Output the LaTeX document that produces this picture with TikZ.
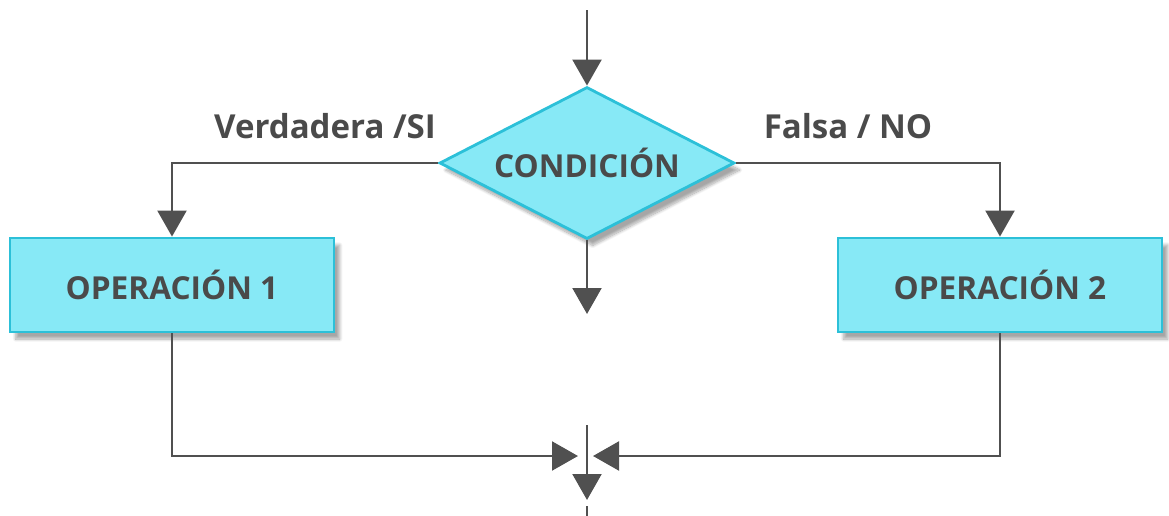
\documentclass[tikz,border=0pt]{standalone}
\usepackage{fontspec}
\setmainfont{Open Sans}
\usepackage{tikz}
\usetikzlibrary{arrows.meta, positioning, shapes.geometric, shadows.blur}
\definecolor{flowfill}{HTML}{87E9F6}
\definecolor{flowedge}{HTML}{2CC0D8}
\definecolor{flowline}{HTML}{505050}
\definecolor{flowtext}{HTML}{4A4A4A}

\begin{document}
\begin{tikzpicture}[
    opbox/.style={draw=flowedge, fill=flowfill, line width=2pt, minimum width=8.1cm, minimum height=2.35cm,
        font=\fontsize{22.5}{26}\selectfont\bfseries, text=flowtext,
        blur shadow={shadow xshift=4pt, shadow yshift=-5pt, shadow blur steps=10, shadow opacity=35}},
    flowarrow/.style={-{Triangle[length=0.65cm, width=0.72cm]}, line width=2pt, flowline},
    branchlabel/.style={font=\fontsize{23.5}{27}\selectfont\bfseries, text=flowtext}
  ]
    \useasboundingbox (0,0) rectangle (29.225,-12.9);

    \node[diamond, draw=flowedge, fill=flowfill, line width=2pt, inner sep=0pt, minimum width=7.375cm, minimum height=3.8cm, aspect=1.94,
        font=\fontsize{22.5}{26}\selectfont\bfseries, text=flowtext,
        blur shadow={shadow xshift=4pt, shadow yshift=-5pt, shadow blur steps=10, shadow opacity=35}] (cond) at (14.675,-4.075) {CONDICIÓN};
    \node[opbox] (op1) at (4.3,-7.125) {OPERACIÓN 1};
    \node[opbox] (op2) at (25.0,-7.125) {OPERACIÓN 2};

    \node[branchlabel] (truelbl) at (8.125,-3.15) {Verdadera /SI};
    \node[branchlabel] (falselbl) at (21.2,-3.15) {Falsa / NO};

    \coordinate (entry) at (14.675,-0.25);
    \coordinate (below) at (14.675,-7.85);
    \coordinate (joinl) at (14.45,-11.4);
    \coordinate (joinr) at (14.825,-11.4);
    \coordinate (jointop) at (14.675,-10.625);
    \coordinate (joinout) at (14.675,-12.5);
    \coordinate (nextin) at (14.675,-12.65);
    \coordinate (nextend) at (14.675,-12.9);

    \draw[flowarrow] (entry) -- (cond.north);
    \draw[flowarrow] (cond.south) -- (below);
    \draw[flowarrow] (cond.west) -| (op1.north);
    \draw[flowarrow] (cond.east) -| (op2.north);
    \draw[flowarrow] (op1.south) |- (joinl);
    \draw[flowarrow] (op2.south) |- (joinr);
    \draw[flowarrow] (jointop) -- (joinout);
    \draw[line width=2pt, flowline] (nextin) -- (nextend);
\end{tikzpicture}
\end{document}
